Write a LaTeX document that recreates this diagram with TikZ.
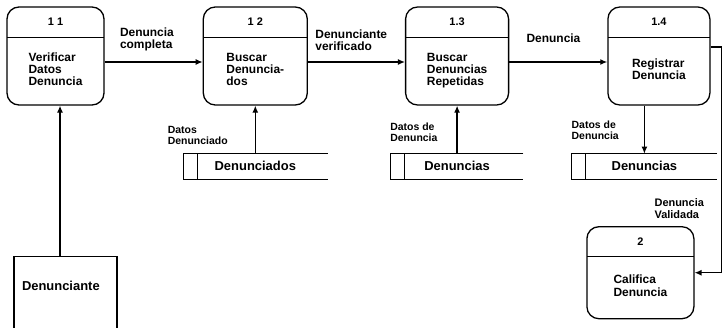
\documentclass[tikz,border=0pt]{standalone}
\usepackage{fontspec}
\setmainfont{Liberation Sans}
\usetikzlibrary{arrows.meta,positioning}
\newcommand{\proctext}[3][68bp]{%
  \vbox{\offinterlineskip
    \hbox{\parbox[c][30bp][c]{90bp}{\centering\fontsize{11}{12}\selectfont #2}}%
    \hbox{\parbox[c][#1][c]{90bp}{\centering\begin{tabular}{@{}l@{}}#3\end{tabular}}}}}
\tikzset{
  >={Latex[length=7bp,width=6bp]},
  proc/.style={
    rectangle, rounded corners=12bp,
    draw, line width=1.3bp, inner sep=0pt,
    minimum width=102bp,
    font=\bfseries\fontsize{12}{12.5}\selectfont,
    path picture={\draw[line width=0.8bp]
      ([yshift=-30bp]path picture bounding box.north west) --
      ([yshift=-30bp]path picture bounding box.north east);}
  },
  store/.style={
    rectangle, inner sep=0pt, minimum height=25bp,
    font=\bfseries\fontsize{13}{14}\selectfont
  },
  entity/.style={
    rectangle, draw, line width=1.3bp, inner xsep=8bp, inner ysep=3bp,
    text width=87bp, align=left, text height=31bp, text depth=60bp,
    font=\bfseries\fontsize{13}{14}\selectfont
  },
  flow/.style={->, line width=1.3bp},
  flowlabel/.style={inner sep=0pt, align=left, font=\bfseries\fontsize{12}{12}\selectfont},
  dlabel/.style={inner sep=0pt, align=left, font=\bfseries\fontsize{10.5}{11.5}\selectfont},
}
\begin{document}
\begin{tikzpicture}[x=1bp, y=1bp]
\useasboundingbox (0,0) rectangle (726,327);
% --- Processes ---
\node[proc, minimum width=97bp] (p11) at (55.5,271) {\proctext{1 1}{Verificar\\Datos\\Denuncia}};
\node[proc, minimum width=104bp, right=98bp of p11] (p12) {\proctext{1 2}{Buscar\\Denuncia-\\dos}};
\node[proc, minimum width=103bp, right=97bp of p12] (p13) {\proctext{1.3}{Buscar\\Denuncias\\Repetidas}};
\node[proc, right=98bp of p13] (p14) {\proctext{1.4}{Registrar\\Denuncia}};
% --- Data stores ---
\node[store, minimum width=144bp, below=48bp of p12] (s1) {Denunciados};
\node[store, minimum width=132bp, below=48bp of p13] (s2) {Denuncias};
\node[store, minimum width=145bp, below=48bp of p14, xshift=-14.5bp] (s3) {Denuncias};
\foreach \s in {s1,s2,s3}{
  \draw[line width=1.1bp] (\s.north east) -- (\s.north west) -- (\s.south west) -- (\s.south east);
  \draw[line width=1.1bp] ([xshift=14bp]\s.north west) -- ([xshift=14bp]\s.south west);
}
% --- Process 2 and external entity ---
\node[proc, minimum width=107bp, below=47bp of s3, xshift=-4bp] (p2) {\proctext[62bp]{2}{Califica\\Denuncia}};
\node[entity, below=150bp of p11, xshift=10bp] (ent) {Denunciante};
% --- Flows ---
\draw[flow] ([xshift=-5.5bp]ent.north) -- ([xshift=-5.5bp]ent.north |- p11.south);
\draw[flow] ([yshift=-6bp]p11.east) -- node[flowlabel, pos=0.15, anchor=south west, yshift=10.5bp] {Denuncia\\completa} ([yshift=-6bp]p12.west);
\draw[flow] ([yshift=-6bp]p12.east) -- node[flowlabel, pos=0.07, anchor=south west, yshift=10.5bp] {Denunciante\\verificado} ([yshift=-6bp]p13.west);
\draw[flow] ([yshift=-6bp]p13.east) -- node[flowlabel, pos=0.17, anchor=south west, yshift=18.5bp] {Denuncia} ([yshift=-6bp]p14.west);
% store <-> process
\draw[flow] (s1.north) -- node[dlabel, pos=0, anchor=south east, xshift=-27bp, yshift=8bp] {Datos\\Denunciado} (s1.north |- p12.south);
\draw[flow] (p13.south |- s2.north) -- node[dlabel, pos=0, anchor=south east, xshift=-19bp, yshift=11bp] {Datos de\\Denuncia} (p13.south);
\draw[flow] (s3.north |- p14.south) -- node[dlabel, pos=1, anchor=south east, xshift=-25bp, yshift=13bp] {Datos de\\Denuncia} (s3.north);
% validated complaint down to 2
\draw[flow] ([yshift=9bp]p14.east) -- ++(11bp,0) |- node[dlabel, pos=0.358, anchor=east, xshift=-17bp, font=\bfseries\fontsize{11}{12}\selectfont] {Denuncia\\Validada} (p2.east);
\end{tikzpicture}
\end{document}
